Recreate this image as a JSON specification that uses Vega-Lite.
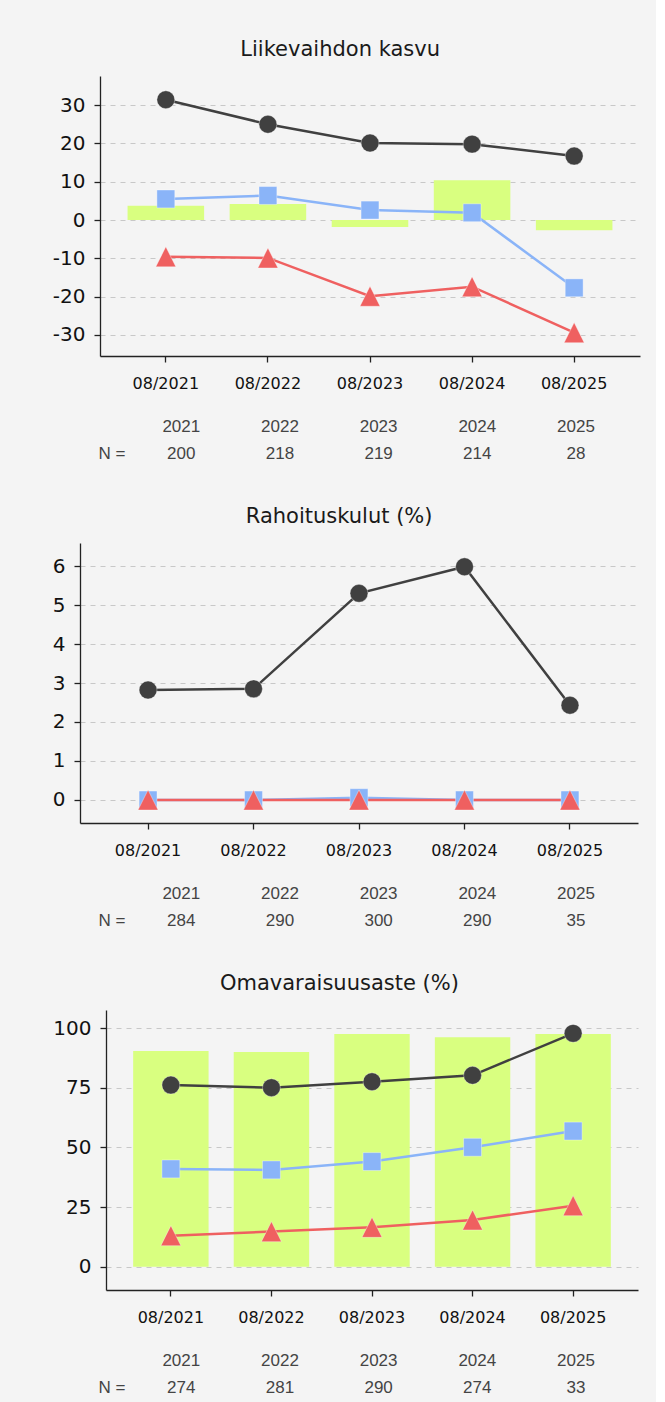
{
  "$schema": "https://vega.github.io/schema/vega-lite/v6.json",
  "padding": {"left": 10, "right": 16, "top": 39, "bottom": 2},
  "background": "#f4f4f4",
  "datasets": {
    "lines": [
      {"panel": 1, "period": "08/2021", "series": "yläneljännes", "value": 31.4},
      {"panel": 1, "period": "08/2021", "series": "mediaani", "value": 5.5},
      {"panel": 1, "period": "08/2021", "series": "alaneljännes", "value": -9.6},
      {"panel": 1, "period": "08/2022", "series": "yläneljännes", "value": 25.0},
      {"panel": 1, "period": "08/2022", "series": "mediaani", "value": 6.4},
      {"panel": 1, "period": "08/2022", "series": "alaneljännes", "value": -9.9},
      {"panel": 1, "period": "08/2023", "series": "yläneljännes", "value": 20.1},
      {"panel": 1, "period": "08/2023", "series": "mediaani", "value": 2.6},
      {"panel": 1, "period": "08/2023", "series": "alaneljännes", "value": -19.9},
      {"panel": 1, "period": "08/2024", "series": "yläneljännes", "value": 19.8},
      {"panel": 1, "period": "08/2024", "series": "mediaani", "value": 1.9},
      {"panel": 1, "period": "08/2024", "series": "alaneljännes", "value": -17.4},
      {"panel": 1, "period": "08/2025", "series": "yläneljännes", "value": 16.7},
      {"panel": 1, "period": "08/2025", "series": "mediaani", "value": -17.7},
      {"panel": 1, "period": "08/2025", "series": "alaneljännes", "value": -29.4},
      {"panel": 2, "period": "08/2021", "series": "yläneljännes", "value": 2.82},
      {"panel": 2, "period": "08/2021", "series": "mediaani", "value": 0.0},
      {"panel": 2, "period": "08/2021", "series": "alaneljännes", "value": 0.0},
      {"panel": 2, "period": "08/2022", "series": "yläneljännes", "value": 2.85},
      {"panel": 2, "period": "08/2022", "series": "mediaani", "value": 0.0},
      {"panel": 2, "period": "08/2022", "series": "alaneljännes", "value": 0.0},
      {"panel": 2, "period": "08/2023", "series": "yläneljännes", "value": 5.3},
      {"panel": 2, "period": "08/2023", "series": "mediaani", "value": 0.06},
      {"panel": 2, "period": "08/2023", "series": "alaneljännes", "value": 0.0},
      {"panel": 2, "period": "08/2024", "series": "yläneljännes", "value": 5.98},
      {"panel": 2, "period": "08/2024", "series": "mediaani", "value": 0.0},
      {"panel": 2, "period": "08/2024", "series": "alaneljännes", "value": 0.0},
      {"panel": 2, "period": "08/2025", "series": "yläneljännes", "value": 2.43},
      {"panel": 2, "period": "08/2025", "series": "mediaani", "value": 0.0},
      {"panel": 2, "period": "08/2025", "series": "alaneljännes", "value": 0.0},
      {"panel": 3, "period": "08/2021", "series": "yläneljännes", "value": 76.2},
      {"panel": 3, "period": "08/2021", "series": "mediaani", "value": 41.0},
      {"panel": 3, "period": "08/2021", "series": "alaneljännes", "value": 13.0},
      {"panel": 3, "period": "08/2022", "series": "yläneljännes", "value": 75.1},
      {"panel": 3, "period": "08/2022", "series": "mediaani", "value": 40.6},
      {"panel": 3, "period": "08/2022", "series": "alaneljännes", "value": 14.7},
      {"panel": 3, "period": "08/2023", "series": "yläneljännes", "value": 77.6},
      {"panel": 3, "period": "08/2023", "series": "mediaani", "value": 44.1},
      {"panel": 3, "period": "08/2023", "series": "alaneljännes", "value": 16.5},
      {"panel": 3, "period": "08/2024", "series": "yläneljännes", "value": 80.3},
      {"panel": 3, "period": "08/2024", "series": "mediaani", "value": 50.1},
      {"panel": 3, "period": "08/2024", "series": "alaneljännes", "value": 19.6},
      {"panel": 3, "period": "08/2025", "series": "yläneljännes", "value": 97.9},
      {"panel": 3, "period": "08/2025", "series": "mediaani", "value": 56.9},
      {"panel": 3, "period": "08/2025", "series": "alaneljännes", "value": 25.6}
    ],
    "bars": [
      {"panel": 1, "period": "08/2021", "value": 3.7},
      {"panel": 1, "period": "08/2022", "value": 4.2},
      {"panel": 1, "period": "08/2023", "value": -1.8},
      {"panel": 1, "period": "08/2024", "value": 10.4},
      {"panel": 1, "period": "08/2025", "value": -2.7},
      {"panel": 3, "period": "08/2021", "value": 90.5},
      {"panel": 3, "period": "08/2022", "value": 90.1},
      {"panel": 3, "period": "08/2023", "value": 97.6},
      {"panel": 3, "period": "08/2024", "value": 96.3},
      {"panel": 3, "period": "08/2025", "value": 97.6}
    ],
    "counts": [
      {"panel": 1, "year": "2021", "n": "200"},
      {"panel": 1, "year": "2022", "n": "218"},
      {"panel": 1, "year": "2023", "n": "219"},
      {"panel": 1, "year": "2024", "n": "214"},
      {"panel": 1, "year": "2025", "n": "28"},
      {"panel": 2, "year": "2021", "n": "284"},
      {"panel": 2, "year": "2022", "n": "290"},
      {"panel": 2, "year": "2023", "n": "300"},
      {"panel": 2, "year": "2024", "n": "290"},
      {"panel": 2, "year": "2025", "n": "35"},
      {"panel": 3, "year": "2021", "n": "274"},
      {"panel": 3, "year": "2022", "n": "281"},
      {"panel": 3, "year": "2023", "n": "290"},
      {"panel": 3, "year": "2024", "n": "274"},
      {"panel": 3, "year": "2025", "n": "33"}
    ],
    "blank": [{"t": ""}]
  },
  "vconcat": [
    {
      "spacing": 22,
      "vconcat": [
        {
          "spacing": 0,
          "hconcat": [
            {"width": 42, "height": 280, "data": {"name": "blank"}, "mark": {"type": "text"}, "encoding": {"text": {"field": "t", "type": "nominal"}}},
            {
              "title": "Liikevaihdon kasvu",
              "width": 540,
              "height": 280,
              "encoding": {
                "x": {"field": "period", "type": "nominal", "scale": {"type": "band"}, "axis": {"title": null}}
              },
              "layer": [
                {
                  "data": {"name": "bars"},
                  "transform": [{"filter": "datum.panel == 1"}],
                  "mark": {"type": "bar", "color": "#d9ff80"},
                  "encoding": {
                    "y": {"field": "value", "type": "quantitative", "scale": {"domain": [-35.5, 37.6], "nice": false}, "axis": {"values": [-30, -20, -10, 0, 10, 20, 30], "title": null, "labelExpr": "toString(datum.value)"}},
                    "y2": {"datum": 0}
                  }
                },
                {
                  "data": {"name": "lines"},
                  "transform": [{"filter": "datum.panel == 1"}],
                  "mark": {"type": "line", "strokeWidth": 2.5},
                  "encoding": {
                    "y": {"field": "value", "type": "quantitative"},
                    "color": {"field": "series", "type": "nominal", "scale": {"domain": ["yläneljännes", "mediaani", "alaneljännes"], "range": ["#404040", "#8ab4f8", "#ef6060"]}, "legend": null}
                  }
                },
                {
                  "data": {"name": "lines"},
                  "transform": [{"filter": "datum.panel == 1"}],
                  "mark": {"type": "point", "filled": true, "opacity": 1, "size": 320, "stroke": "white", "strokeWidth": 1, "strokeOpacity": 0.35},
                  "encoding": {
                    "y": {"field": "value", "type": "quantitative"},
                    "color": {"field": "series", "type": "nominal", "legend": null},
                    "shape": {"field": "series", "type": "nominal", "scale": {"domain": ["yläneljännes", "mediaani", "alaneljännes"], "range": ["circle", "square", "M0,-1.12L-1.12,1.12L1.12,1.12Z"]}, "legend": null}
                  }
                }
              ]
            }
          ]
        },
        {
          "width": 592,
          "height": 54,
          "data": {"name": "counts"},
          "transform": [{"filter": "datum.panel == 1"}],
          "encoding": {
            "x": {"field": "year", "type": "ordinal", "scale": {"type": "point", "padding": 1.038, "align": 0.868}, "axis": null}
          },
          "layer": [
            {
              "mark": {"type": "text", "font": "Liberation Sans", "fontSize": 17, "color": "#444", "baseline": "middle"},
              "encoding": {
                "y": {"datum": "vuosi", "type": "nominal", "scale": {"type": "point", "domain": ["vuosi", "N"], "padding": 0.5}, "axis": {"title": null, "domain": false, "ticks": false, "tickSize": 0, "grid": false, "labelExpr": "datum.value == 'N' ? 'N =' : ''", "labelAlign": "left", "labelPadding": -88, "labelFont": "Liberation Sans", "labelFontSize": 17, "labelColor": "#444"}},
                "text": {"field": "year", "type": "nominal"}
              }
            },
            {
              "mark": {"type": "text", "font": "Liberation Sans", "fontSize": 17, "color": "#444", "baseline": "middle"},
              "encoding": {
                "y": {"datum": "N", "type": "nominal"},
                "text": {"field": "n", "type": "nominal"}
              }
            }
          ]
        }
      ]
    },
    {
      "spacing": 22,
      "vconcat": [
        {
          "spacing": 0,
          "hconcat": [
            {"width": 42, "height": 280, "data": {"name": "blank"}, "mark": {"type": "text"}, "encoding": {"text": {"field": "t", "type": "nominal"}}},
            {
              "title": "Rahoituskulut (%)",
              "width": 558,
              "height": 280,
              "encoding": {
                "x": {"field": "period", "type": "nominal", "scale": {"type": "band"}, "axis": {"title": null}}
              },
              "layer": [
                {
                  "data": {"name": "lines"},
                  "transform": [{"filter": "datum.panel == 2"}],
                  "mark": {"type": "line", "strokeWidth": 2.5},
                  "encoding": {
                    "y": {"field": "value", "type": "quantitative", "scale": {"domain": [-0.59, 6.59], "nice": false}, "axis": {"values": [0, 1, 2, 3, 4, 5, 6], "title": null}},
                    "color": {"field": "series", "type": "nominal", "scale": {"domain": ["yläneljännes", "mediaani", "alaneljännes"], "range": ["#404040", "#8ab4f8", "#ef6060"]}, "legend": null}
                  }
                },
                {
                  "data": {"name": "lines"},
                  "transform": [{"filter": "datum.panel == 2"}],
                  "mark": {"type": "point", "filled": true, "opacity": 1, "size": 320, "stroke": "white", "strokeWidth": 1, "strokeOpacity": 0.35},
                  "encoding": {
                    "y": {"field": "value", "type": "quantitative"},
                    "color": {"field": "series", "type": "nominal", "legend": null},
                    "shape": {"field": "series", "type": "nominal", "scale": {"domain": ["yläneljännes", "mediaani", "alaneljännes"], "range": ["circle", "square", "M0,-1.12L-1.12,1.12L1.12,1.12Z"]}, "legend": null}
                  }
                }
              ]
            }
          ]
        },
        {
          "width": 592,
          "height": 54,
          "data": {"name": "counts"},
          "transform": [{"filter": "datum.panel == 2"}],
          "encoding": {
            "x": {"field": "year", "type": "ordinal", "scale": {"type": "point", "padding": 1.038, "align": 0.868}, "axis": null}
          },
          "layer": [
            {
              "mark": {"type": "text", "font": "Liberation Sans", "fontSize": 17, "color": "#444", "baseline": "middle"},
              "encoding": {
                "y": {"datum": "vuosi", "type": "nominal", "scale": {"type": "point", "domain": ["vuosi", "N"], "padding": 0.5}, "axis": {"title": null, "domain": false, "ticks": false, "tickSize": 0, "grid": false, "labelExpr": "datum.value == 'N' ? 'N =' : ''", "labelAlign": "left", "labelPadding": -88, "labelFont": "Liberation Sans", "labelFontSize": 17, "labelColor": "#444"}},
                "text": {"field": "year", "type": "nominal"}
              }
            },
            {
              "mark": {"type": "text", "font": "Liberation Sans", "fontSize": 17, "color": "#444", "baseline": "middle"},
              "encoding": {
                "y": {"datum": "N", "type": "nominal"},
                "text": {"field": "n", "type": "nominal"}
              }
            }
          ]
        }
      ]
    },
    {
      "spacing": 22,
      "vconcat": [
        {
          "spacing": 0,
          "hconcat": [
            {"width": 42, "height": 280, "data": {"name": "blank"}, "mark": {"type": "text"}, "encoding": {"text": {"field": "t", "type": "nominal"}}},
            {
              "title": "Omavaraisuusaste (%)",
              "width": 532,
              "height": 280,
              "encoding": {
                "x": {"field": "period", "type": "nominal", "scale": {"type": "band"}, "axis": {"title": null}}
              },
              "layer": [
                {
                  "data": {"name": "bars"},
                  "transform": [{"filter": "datum.panel == 3"}],
                  "mark": {"type": "bar", "color": "#d9ff80"},
                  "encoding": {
                    "y": {"field": "value", "type": "quantitative", "scale": {"domain": [-9.8, 107.7], "nice": false}, "axis": {"values": [0, 25, 50, 75, 100], "title": null}},
                    "y2": {"datum": 0}
                  }
                },
                {
                  "data": {"name": "lines"},
                  "transform": [{"filter": "datum.panel == 3"}],
                  "mark": {"type": "line", "strokeWidth": 2.5},
                  "encoding": {
                    "y": {"field": "value", "type": "quantitative"},
                    "color": {"field": "series", "type": "nominal", "scale": {"domain": ["yläneljännes", "mediaani", "alaneljännes"], "range": ["#404040", "#8ab4f8", "#ef6060"]}, "legend": null}
                  }
                },
                {
                  "data": {"name": "lines"},
                  "transform": [{"filter": "datum.panel == 3"}],
                  "mark": {"type": "point", "filled": true, "opacity": 1, "size": 320, "stroke": "white", "strokeWidth": 1, "strokeOpacity": 0.35},
                  "encoding": {
                    "y": {"field": "value", "type": "quantitative"},
                    "color": {"field": "series", "type": "nominal", "legend": null},
                    "shape": {"field": "series", "type": "nominal", "scale": {"domain": ["yläneljännes", "mediaani", "alaneljännes"], "range": ["circle", "square", "M0,-1.12L-1.12,1.12L1.12,1.12Z"]}, "legend": null}
                  }
                }
              ]
            }
          ]
        },
        {
          "width": 592,
          "height": 54,
          "data": {"name": "counts"},
          "transform": [{"filter": "datum.panel == 3"}],
          "encoding": {
            "x": {"field": "year", "type": "ordinal", "scale": {"type": "point", "padding": 1.038, "align": 0.868}, "axis": null}
          },
          "layer": [
            {
              "mark": {"type": "text", "font": "Liberation Sans", "fontSize": 17, "color": "#444", "baseline": "middle"},
              "encoding": {
                "y": {"datum": "vuosi", "type": "nominal", "scale": {"type": "point", "domain": ["vuosi", "N"], "padding": 0.5}, "axis": {"title": null, "domain": false, "ticks": false, "tickSize": 0, "grid": false, "labelExpr": "datum.value == 'N' ? 'N =' : ''", "labelAlign": "left", "labelPadding": -88, "labelFont": "Liberation Sans", "labelFontSize": 17, "labelColor": "#444"}},
                "text": {"field": "year", "type": "nominal"}
              }
            },
            {
              "mark": {"type": "text", "font": "Liberation Sans", "fontSize": 17, "color": "#444", "baseline": "middle"},
              "encoding": {
                "y": {"datum": "N", "type": "nominal"},
                "text": {"field": "n", "type": "nominal"}
              }
            }
          ]
        }
      ]
    }
  ],
  "spacing": 39,
  "config": {
    "view": {"stroke": null},
    "font": "DejaVu Sans",
    "title": {"font": "DejaVu Sans", "fontSize": 21, "fontWeight": "normal", "color": "#1a1a1a", "anchor": "middle", "frame": "bounds", "baseline": "alphabetic", "offset": 16, "dx": -6},
    "axis": {"labelFont": "DejaVu Sans", "labelColor": "#111", "domainColor": "#222", "domainWidth": 1.3, "tickColor": "#222", "tickWidth": 1.3, "tickSize": 6},
    "axisX": {"labelFontSize": 16, "labelAngle": 0, "labelPadding": 13, "grid": false},
    "axisY": {"labelFontSize": 20, "labelPadding": 9, "grid": true, "gridColor": "#c8c8c8", "gridDash": [5, 5], "gridWidth": 1.2},
    "scale": {"bandPaddingInner": 0.25, "bandPaddingOuter": 0.27}
  }
}
